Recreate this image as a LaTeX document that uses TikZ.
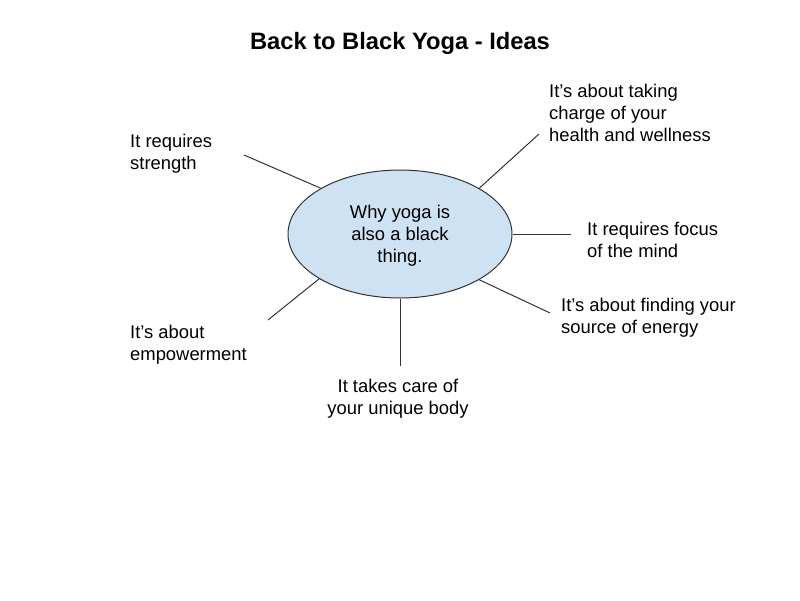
\documentclass[tikz,border=0pt]{standalone}
\usepackage{fontspec}
\setmainfont{Liberation Sans}
\usetikzlibrary{shapes.geometric}
\definecolor{bubble}{HTML}{CFE2F3}
\definecolor{edge}{HTML}{333333}
\tikzset{
  lbl/.style={inner sep=0pt, align=left, font=\fontsize{18.4}{22}\selectfont, text=black},
  lblc/.style={lbl, align=center},
  link/.style={draw=edge, line width=1pt},
  hub/.style={ellipse, draw=edge, line width=1pt, fill=bubble, minimum width=224pt, minimum height=128pt, inner sep=0pt, align=center, font=\fontsize{18.4}{22}\selectfont}
}
\begin{document}
\begin{tikzpicture}[x=1pt,y=-1pt]
\useasboundingbox (0,0) rectangle (800,600);
\node[inner sep=0pt, font=\fontsize{23.7}{28}\selectfont\bfseries] (title) at (400,43) {Back to Black Yoga - Ideas};
\node[hub] (c) at (400,234) {};
\node[lblc] (ct) at (400,236) {Why yoga is\\also a black\\thing.};
\node[lbl, anchor=west] (t1) at (130,154) {It requires\\strength};
\node[lbl, anchor=west] (t2) at (549,113) {It’s about taking\\charge of your\\health and wellness};
\node[lbl, anchor=west] (t3) at (587,240) {It requires focus\\of the mind};
\node[lbl, anchor=west] (t4) at (561,318) {It’s about finding your\\source of energy};
\node[lblc] (t5) at (398,399) {It takes care of\\your unique body};
\node[lbl, anchor=west] (t6) at (130,345) {It’s about\\empowerment};
\coordinate (e1) at (244,155);
\coordinate (e2) at (539,134);
\coordinate (e3) at (571,234);
\coordinate (e4) at (550,313);
\coordinate (e5) at (400,366);
\coordinate (e6) at (268,320);
\draw[link] (c.150.6) -- (e1);
\draw[link] (c.30.3) -- (e2);
\draw[link] (c.0) -- (e3);
\draw[link] (c.-30.5) -- (e4);
\draw[link] (c.-90) -- (e5);
\draw[link] (c.209.9) -- (e6);
\end{tikzpicture}
\end{document}
